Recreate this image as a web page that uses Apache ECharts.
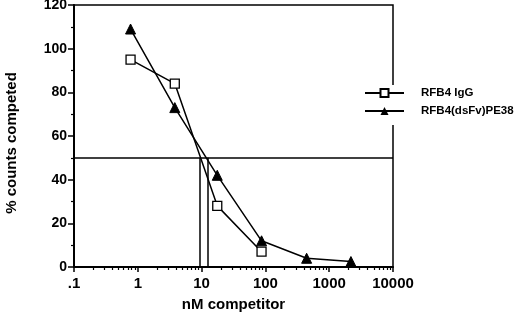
<!DOCTYPE html>
<html>
<head>
<meta charset="utf-8">
<script src="https://cdn.jsdelivr.net/npm/echarts@6/dist/echarts.min.js"></script>
<style>
  html, body { margin: 0; padding: 0; background: #fff; }
  #main { width: 520px; height: 317px; }
</style>
</head>
<body>
<div id="main"></div>
<script>
// values
var iggX = [0.77, 3.8, 17.6, 87];
var iggY = [95, 84, 28, 7];
var dsfvX = [0.77, 3.8, 17.6, 87, 443, 2190];
var dsfvY = [109, 73, 42, 12, 4, 2.5];
var halfLine = 50;
var ic50 = [9.5, 12.3];
var xTickLabels = ['.1', '1', '10', '100', '1000', '10000'];
var yTicks = [0, 20, 40, 60, 80, 100, 120];

function pairs(xs, ys) {
  return xs.map(function (x, i) { return [x, ys[i]]; });
}

// minor ticks of the log axis (2..9 in each decade), in log10 units
var minorTicks = [];
for (var d = -1; d < 4; d++) {
  for (var m = 2; m <= 9; m++) minorTicks.push(d + Math.log10(m));
}

var font = '"Liberation Sans", Arial, sans-serif';
var chart = echarts.init(document.getElementById('main'));

var option = {
  animation: false,
  backgroundColor: '#fff',
  grid: {
    left: 74, top: 5, right: 127, bottom: 50,
    outerBoundsMode: 'none',
    show: true, borderColor: '#000', borderWidth: 1.5
  },
  legend: {
    orient: 'vertical',
    left: 364, top: 85,
    padding: [2, 4, 8, 0],
    backgroundColor: '#fff',
    itemWidth: 39, itemHeight: 10, itemGap: 6,
    textStyle: { fontFamily: font, fontWeight: 'bold', fontSize: 11.5, color: '#000', padding: [0, 0, 0, 12] },
    data: ['RFB4 IgG', 'RFB4(dsFv)PE38']
  },
  xAxis: [
    {
      type: 'log', logBase: 10, min: 0.1, max: 10000,
      name: 'nM competitor', nameLocation: 'middle', nameGap: 30,
      nameTextStyle: { fontFamily: font, fontWeight: 'bold', fontSize: 15, color: '#000' },
      axisLine: { onZero: false, lineStyle: { color: '#000', width: 2 } },
      axisTick: { inside: false, length: 5, lineStyle: { color: '#000', width: 1.5 } },
      axisLabel: {
        fontFamily: font, fontWeight: 'bold', fontSize: 15, color: '#000', margin: 9,
        formatter: function (v) {
          var i = Math.round(Math.log10(v)) + 1;
          return xTickLabels[i];
        }
      },
      splitLine: { show: false }
    },
    {
      type: 'value', min: -1, max: 4, position: 'bottom',
      axisLine: { show: false, onZero: false },
      axisTick: { show: true, length: 3, customValues: minorTicks, lineStyle: { color: '#000', width: 1.2 } },
      axisLabel: { show: false },
      splitLine: { show: false }
    }
  ],
  yAxis: {
    type: 'value', min: 0, max: 120, interval: 20,
    name: '% counts competed', nameLocation: 'middle', nameGap: 55,
    nameTextStyle: { fontFamily: font, fontWeight: 'bold', fontSize: 15, color: '#000', padding: [0, 14, 0, 0] },
    axisLine: { show: true, onZero: false, lineStyle: { color: '#000', width: 2 } },
    axisTick: { show: true, length: 6, lineStyle: { color: '#000', width: 1.5 } },
    minorTick: { show: true, splitNumber: 2, length: 3, lineStyle: { color: '#000', width: 1.2 } },
    axisLabel: {
      fontFamily: font, fontWeight: 'bold', fontSize: 14, color: '#000', margin: 7,
      customValues: yTicks
    },
    splitLine: { show: false }
  },
  series: [
    {
      name: 'RFB4 IgG', type: 'line', xAxisIndex: 0,
      data: pairs(iggX, iggY),
      symbol: 'rect', symbolSize: 9,
      itemStyle: { color: '#fff', borderColor: '#000', borderWidth: 1.3 },
      lineStyle: { color: '#000', width: 1.5 },
      z: 3,
      markLine: {
        silent: true, symbol: 'none', label: { show: false },
        lineStyle: { color: '#000', width: 1.5, type: 'solid' },
        data: [
          { yAxis: halfLine },
          [{ coord: [ic50[0], 0] }, { coord: [ic50[0], halfLine] }],
          [{ coord: [ic50[1], 0] }, { coord: [ic50[1], halfLine] }]
        ]
      }
    },
    {
      name: 'RFB4(dsFv)PE38', type: 'line', xAxisIndex: 0,
      data: pairs(dsfvX, dsfvY),
      symbol: 'triangle', symbolSize: 10,
      itemStyle: { color: '#000', borderColor: '#000' },
      lineStyle: { color: '#000', width: 1.5 },
      z: 3
    }
  ]
};

chart.setOption(option);
</script>
</body>
</html>
